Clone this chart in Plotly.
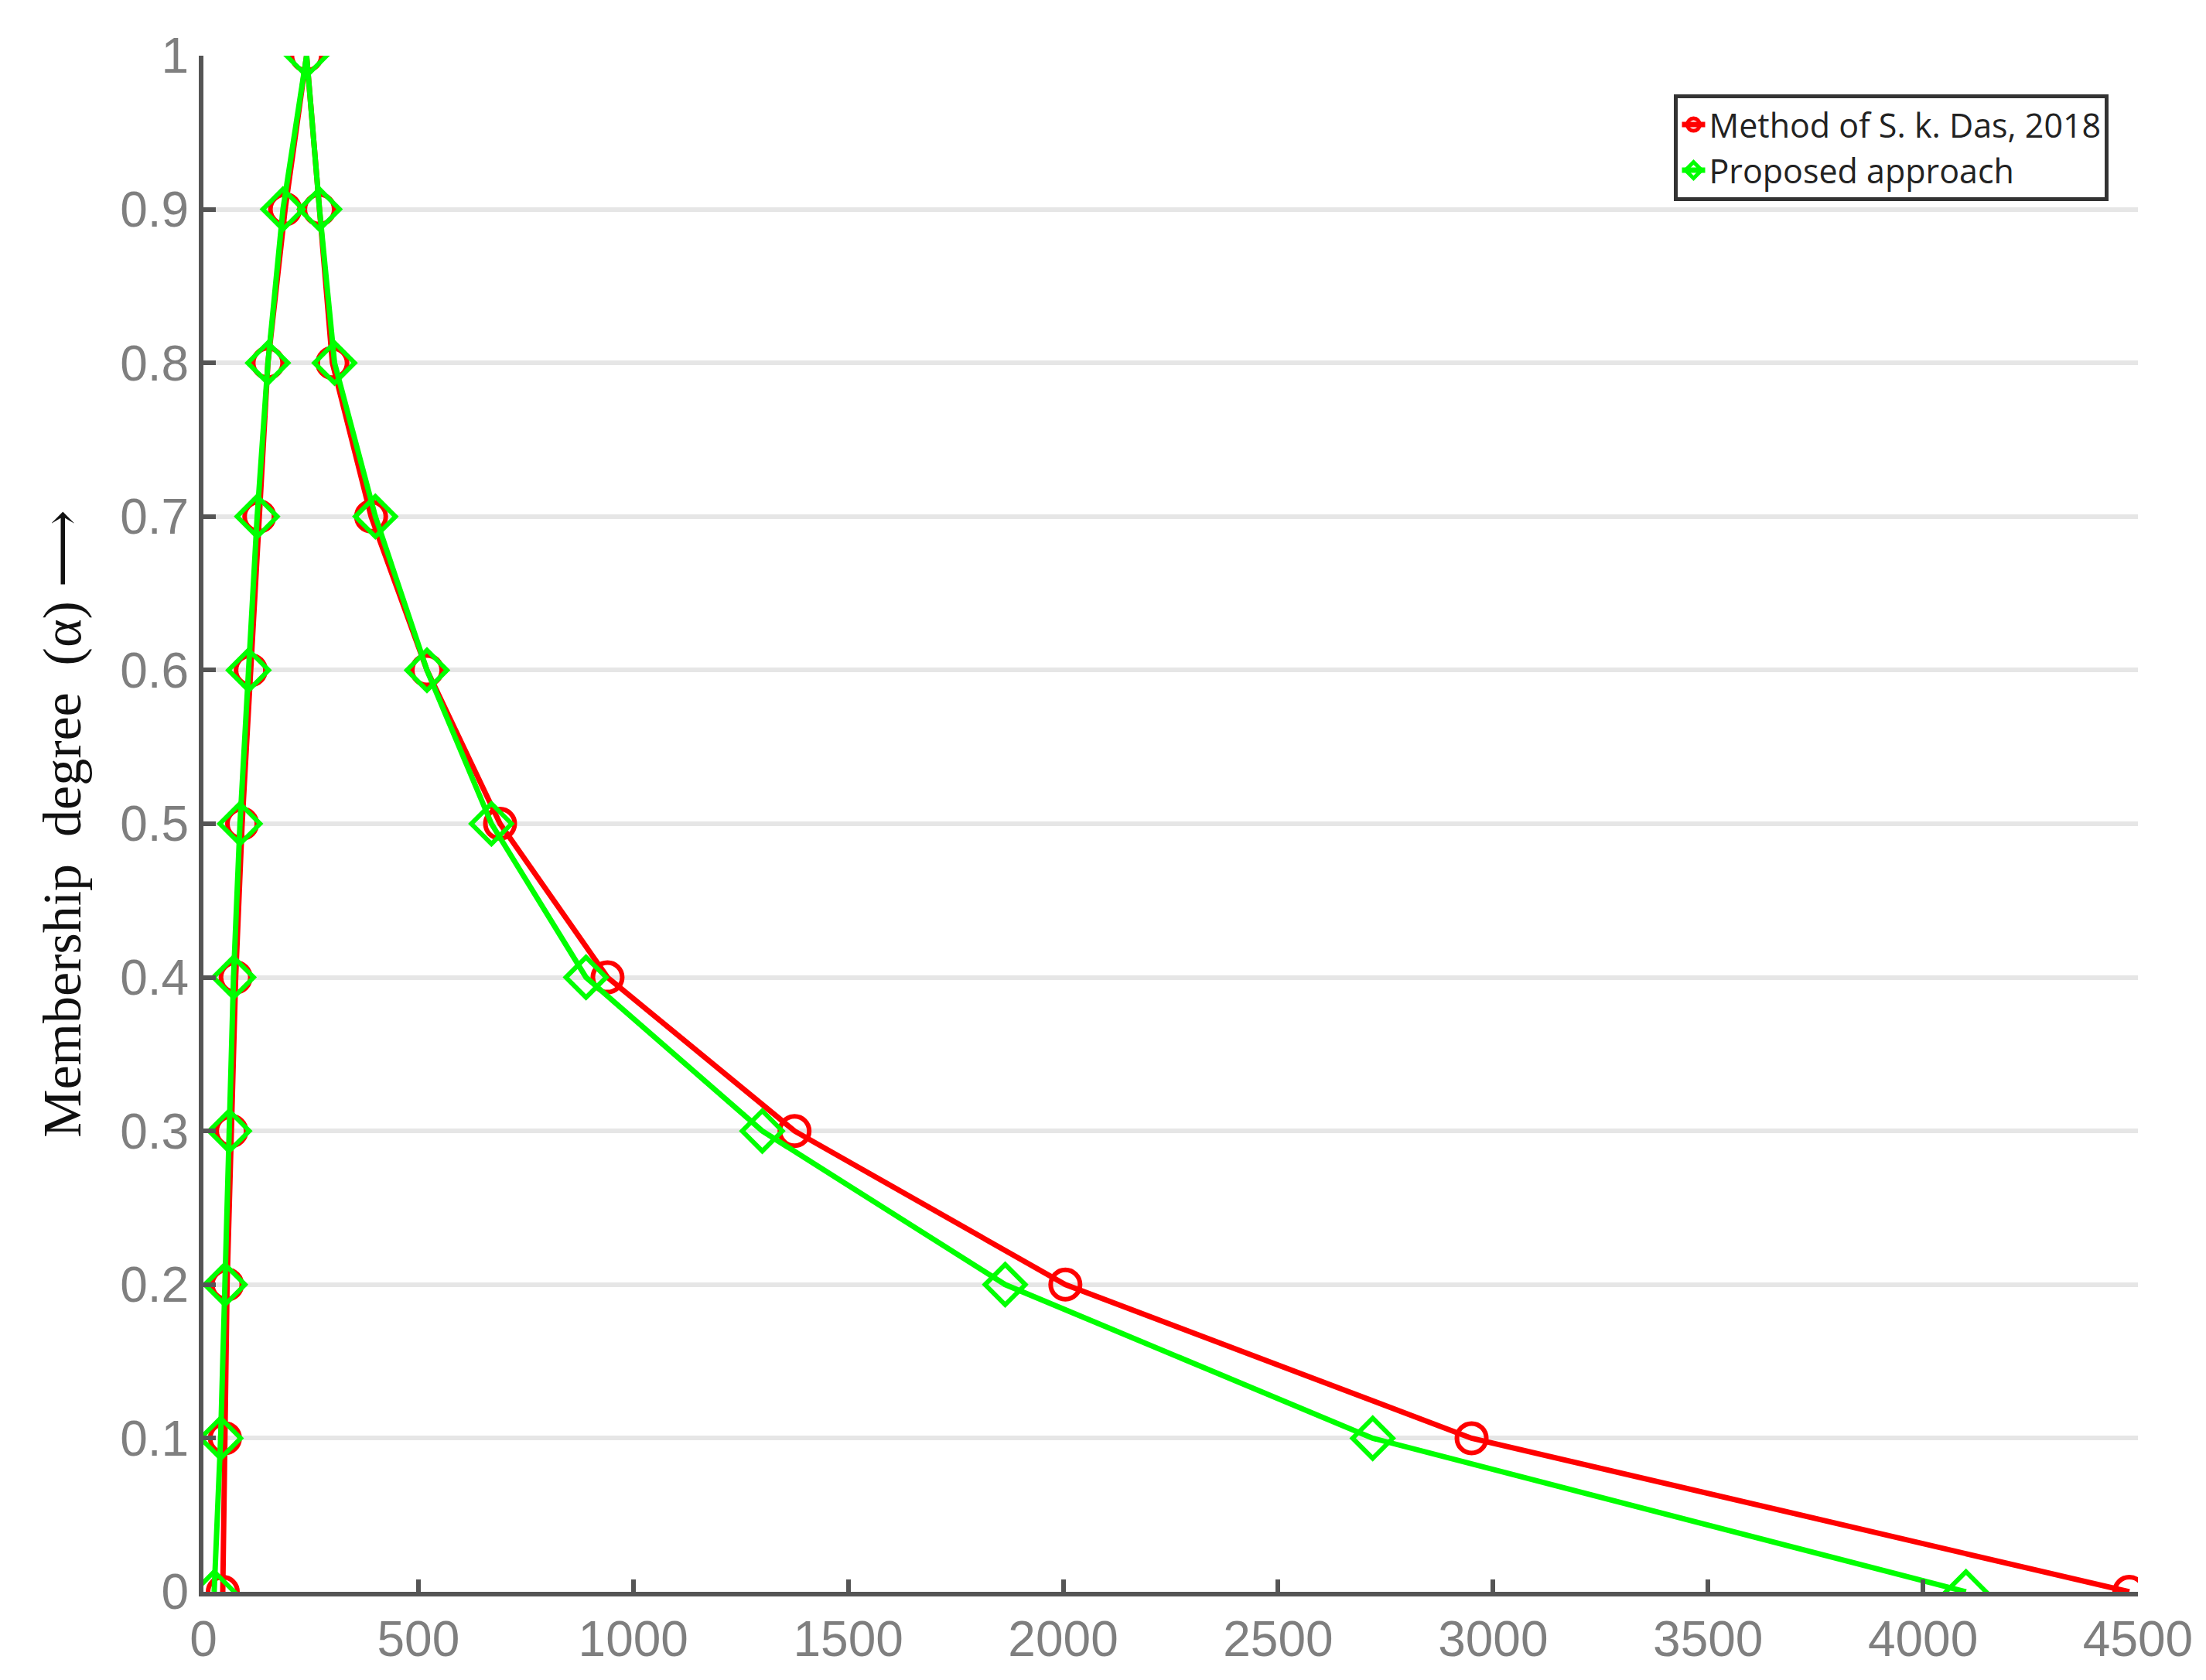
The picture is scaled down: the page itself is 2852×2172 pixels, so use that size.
import plotly.graph_objects as go

alpha = [0, 0.1, 0.2, 0.3, 0.4, 0.5, 0.6, 0.7, 0.8, 0.9, 1.0, 0.9, 0.8, 0.7, 0.6, 0.5, 0.4, 0.3, 0.2, 0.1, 0]
das_x = [45, 50, 55, 65, 75, 90, 110, 130, 150, 190, 240, 270, 300, 390, 520, 690, 940, 1375, 2005, 2950, 4480]
prop_x = [25, 40, 50, 60, 70, 85, 105, 125, 150, 185, 240, 270, 305, 400, 520, 670, 890, 1300, 1865, 2720, 4100]

fig = go.Figure()
fig.add_trace(go.Scatter(x=das_x, y=alpha, mode="lines+markers", name="Method of S. k. Das, 2018",
                         line=dict(color="#ff0000", width=7),
                         marker=dict(symbol="circle-open", size=38, color="#ff0000", line=dict(width=6))))
fig.add_trace(go.Scatter(x=prop_x, y=alpha, mode="lines+markers", name="Proposed approach",
                         line=dict(color="#00ff00", width=7),
                         marker=dict(symbol="diamond-open", size=40, color="#00ff00", line=dict(width=6))))

fig.update_layout(
    width=2852, height=2172, paper_bgcolor="white", plot_bgcolor="white",
    margin=dict(l=255, r=96, t=64, b=122),
    font=dict(family="Arial, Liberation Sans", color="#7f7f7f", size=62),
    legend=dict(x=0.985, y=0.975, xanchor="right", yanchor="top", bordercolor="#333333", borderwidth=5,
                bgcolor="white", font=dict(size=43, color="#222222", family="Segoe UI, Open Sans, sans-serif")),
    xaxis=dict(range=[0, 4500], tickvals=[0, 500, 1000, 1500, 2000, 2500, 3000, 3500, 4000, 4500],
               showgrid=False, zeroline=False, showline=True, linecolor="#555555", linewidth=6,
               ticks="inside", ticklen=16, tickwidth=6, tickcolor="#555555", tickfont=dict(size=64)),
    yaxis=dict(range=[0, 1], tickvals=[0, 0.1, 0.2, 0.3, 0.4, 0.5, 0.6, 0.7, 0.8, 0.9, 1],
               ticktext=["0", "0.1", "0.2", "0.3", "0.4", "0.5", "0.6", "0.7", "0.8", "0.9", "1"],
               showgrid=True, gridcolor="#e6e6e6", gridwidth=6, zeroline=False,
               showline=True, linecolor="#555555", linewidth=6,
               ticks="inside", ticklen=16, tickwidth=6, tickcolor="#555555", tickfont=dict(size=64),
               title=dict(text="Membership  degree  (α) ⟶", standoff=30,
                          font=dict(family="Liberation Serif, DejaVu Serif, serif", size=70, color="#111111"))),
)
fig.write_html("out.html")
